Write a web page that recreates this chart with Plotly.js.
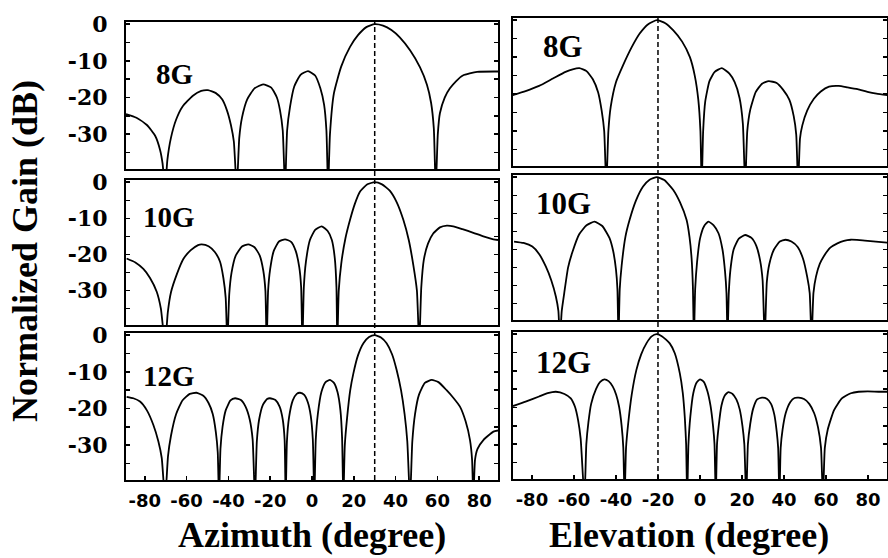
<!DOCTYPE html>
<html><head><meta charset="utf-8">
<script src="https://cdn.plot.ly/plotly-3.0.1.min.js"></script>
<style>html,body{margin:0;padding:0;background:#fff;} #chart{width:888px;height:558px;}</style>
</head><body><div id="chart"></div>
<script>
// ---- data (degrees, dB); -45 marks a null below the axis floor ----
const az8x = [-89,-84,-79,-75,-72.7,-71.5,-70.3,-69.2,-67.5,-65,-62,-57,-53,-49.8,-46,-43,-40.7,-38.8,-37.4,-36,-34.8,-33.5,-31,-27.5,-23.4,-19.5,-16.8,-15.3,-14,-12.9,-11.9,-10.5,-8.5,-5.5,-1.9,1.5,4,5.8,6.9,7.7,8.6,10.5,14,18.2,22,26,30,34,38,42,47,51.7,55,57,58.3,59.2,60.2,61.2,63.5,66,69,72.2,79,89];
const az8y = [-24.5,-25.5,-27.5,-30.5,-34.3,-38,-45,-37,-31,-26,-22.5,-19.5,-18.2,-18,-18.8,-20.5,-23.5,-27.5,-32,-45,-31,-25.5,-20.5,-17.5,-16.4,-17.3,-20,-23.5,-29,-45,-29,-22.5,-17,-13.8,-12.8,-14,-17.5,-22,-29,-45,-30,-18.8,-11.5,-6.2,-3,-0.8,0,-0.4,-1.6,-3.6,-7.2,-11.8,-16.5,-21.5,-28.5,-45,-30,-24.3,-20,-17.5,-15.5,-14,-13,-12.9];

const el8x = [-89.3,-83,-76.6,-70,-64,-60.6,-57.4,-54,-51,-48.5,-46.8,-45.6,-44.6,-43.6,-42.5,-40,-36.7,-32.5,-28.7,-24.5,-20.5,-16.5,-12.8,-8.5,-4.8,-2.5,-0.8,0.2,0.8,1.5,2.5,4.5,7,10.4,14,16.5,18.8,20.4,21.5,22.5,23.9,26.5,29.5,32.7,36.5,39.5,42.5,44.6,45.8,46.7,47.6,48.7,51,54.2,57.5,61.4,66,70.2,75,79.7,84,89.3];
const el8y = [-20.3,-19.2,-17.8,-15.8,-14,-13.3,-13,-13.8,-16,-19.5,-24.5,-30,-45,-30,-23.5,-16.8,-12.3,-7.3,-3.6,-1,0,-0.8,-2.7,-5.8,-10,-15,-21.6,-30,-45,-30,-22,-16.5,-14,-13,-14.5,-16.8,-21,-28,-45,-30,-24.3,-19.5,-17.2,-16.5,-17,-18.8,-21.5,-26,-31,-45,-32,-28.5,-24.5,-21.3,-19.3,-18,-17.8,-18.2,-18.7,-19.4,-19.9,-20.3];

const az10x = [-88.7,-84.5,-80.7,-77.5,-74.3,-72.3,-70.3,-69,-67.5,-64.7,-61.5,-58,-54.5,-52.8,-49.5,-46.5,-44,-42.4,-41.3,-40.5,-39.6,-38.5,-36.5,-33.5,-30.5,-27.5,-25,-23.3,-22.3,-21.7,-21,-20,-18.3,-15.8,-12.9,-10,-7.8,-6.1,-5.2,-4.6,-3.9,-2.9,-1,1.5,4.6,7.5,9.5,10.9,11.7,12.1,12.8,14,16,18.2,20.5,23,26.5,30,33.5,37.3,40.5,43.7,46.3,48.5,50.2,51.3,52.3,53.5,55.5,58,61.2,64.5,67.6,72,77.2,82,86.8,89];
const az10y = [-21.1,-22.2,-24,-26.5,-30.3,-35,-45,-36,-30.5,-25.5,-21.2,-18.8,-17.4,-17.2,-17.7,-19.3,-22,-26.5,-32,-45,-31,-25,-20.3,-17.8,-17.2,-18,-20.3,-24.5,-30,-45,-30,-24,-19,-16.4,-15.8,-16.5,-19,-23.5,-29,-45,-29,-22,-16,-13.2,-12.2,-13.5,-16,-21,-29,-45,-30,-22.5,-15.5,-10.4,-6,-2.6,-0.6,0,-0.6,-2.4,-5.5,-10.4,-16,-23,-30,-45,-29,-21.5,-17,-14.2,-12.5,-12,-12.2,-13,-14,-15,-15.8,-16];

const el10x = [-88.5,-84,-79.8,-76.5,-73.4,-70.8,-68.6,-67.4,-66.7,-65.8,-64.6,-62.8,-60.6,-57.5,-54,-50.2,-46.5,-43.1,-41.3,-40,-39.3,-38.8,-38.2,-37.3,-35.5,-33.5,-30.5,-27.1,-24,-20.5,-17,-12.8,-9.5,-6.4,-5,-4,-3.4,-2.9,-2.3,-1.4,0,2,4,6.5,8.8,10.7,11.9,12.6,13.1,13.7,14.5,16,18.5,21.5,24.5,26.8,28.6,29.8,30.8,31.8,33,35.2,38,40.7,43.5,46.5,49,51,52.2,53.1,54,55.2,57,59,62,65.4,68.5,71.8,76,79.8,85,89.3];
const el10y = [-17.8,-18.2,-19.2,-21.3,-24.7,-28.5,-33,-37,-45,-37,-32,-25,-20.5,-15.8,-13.3,-12.3,-13.5,-16.8,-20.5,-25.5,-31,-45,-31,-24.5,-16.5,-11.8,-6.5,-2.6,-0.7,0,-0.8,-3.5,-7,-11.8,-16.5,-22.5,-30,-45,-31,-23.5,-17,-13.5,-12.3,-13.3,-15.5,-20,-26,-32,-45,-32,-25.5,-20,-17,-16,-16.8,-19,-23,-28.5,-45,-29,-24,-20,-17.8,-17.3,-17.8,-19.3,-22.5,-27.5,-32,-45,-32,-27.5,-24,-21.8,-19.5,-18.3,-17.6,-17.3,-17.4,-17.6,-17.9,-18.1];

const az12x = [-88.7,-85.5,-82.3,-79,-75.9,-73.5,-71.9,-70.3,-68.9,-67.5,-65,-62,-58.5,-55.3,-52,-49.5,-47.5,-46,-45.1,-44.5,-43.8,-42.8,-41.3,-39,-36.8,-34,-31.8,-29.8,-28.4,-27.3,-26.4,-25.3,-23.5,-21.5,-20.1,-17.5,-15.5,-14,-13.1,-12.6,-12,-11,-9.2,-7.3,-5.7,-3.7,-2,-0.6,0.4,1.1,1.8,2.8,4.5,6.5,8.6,10.5,12.2,13.6,14.4,15,15.7,16.8,18.3,19.8,22,24.6,27.3,30,33,35.7,38.3,40.5,42.6,44.3,45.6,46.9,48,49.3,51.2,54,57.3,60.5,64.4,67.5,70.8,73.5,75.6,76.6,77.2,78,79.2,82,86.8,89];
const az12y = [-16.8,-17.2,-18.1,-20.5,-24.5,-29,-33.5,-45,-33,-27.5,-21.5,-17.8,-16,-15.7,-16.5,-18.5,-21.5,-26.5,-32,-45,-31,-25,-20.5,-17.8,-17.2,-17.7,-19.5,-23,-28.5,-45,-29,-23,-19,-17.4,-17.2,-17.7,-19.5,-23,-28.5,-45,-29,-22.5,-17.8,-16,-15.7,-16.3,-18.3,-22,-28.5,-45,-28.5,-21.5,-15.5,-12.8,-12.2,-13,-15.5,-20.5,-28,-45,-30,-22.5,-15,-10.4,-5.5,-2.2,-0.5,0,-0.6,-2.2,-5.2,-9.5,-15,-21.5,-29,-45,-29,-21.5,-16.2,-13,-12.2,-12.8,-15,-17,-19.5,-23.5,-28.6,-34,-45,-34,-31,-28.6,-26.3,-26];

const el12x = [-89,-83,-76.6,-72.5,-68.6,-64.5,-61.5,-59.5,-58,-56.8,-55,-54.1,-53.1,-51.8,-49.5,-47.5,-45.5,-43.5,-41.5,-39.9,-38.5,-37.3,-36.5,-35.9,-35.2,-34.2,-32.5,-30.3,-28,-25.5,-23,-20.7,-18,-14.4,-12,-9.6,-8.2,-7.2,-6.6,-6.1,-5.5,-4.6,-3.2,-1.6,0,1.8,3.5,5,6.2,6.9,7.5,8.1,8.9,10.2,11.8,13.5,15.5,17.3,18.9,20.2,21.1,22,22.8,23.9,25.3,27.2,29.5,31.8,33.8,35.4,36.5,37.2,37.8,38.4,39.3,40.8,43,45,47,49.5,52,54.3,56.2,57.6,58.5,59.4,60.8,63.8,67.5,71.8,75.5,79.8,85,89.3];
const el12y = [-19.6,-18.4,-17,-16.1,-15.7,-16.3,-17.5,-19.8,-23.5,-28.5,-45,-30,-24,-19,-15,-13,-12.3,-12.8,-14.3,-16.5,-19.8,-25,-31,-45,-31,-24.5,-16.5,-9.8,-5.5,-2.5,-0.6,0,-0.6,-2.5,-5.2,-10.7,-16,-23,-30,-45,-30,-22.5,-16.1,-13.2,-12.3,-13,-15.5,-19.5,-25,-30,-45,-30,-25,-19.5,-16.7,-15.8,-16.3,-17.8,-20.5,-25,-30,-45,-30,-24.5,-20.3,-17.8,-17.3,-17.6,-19,-22,-26.5,-31,-45,-31,-26,-21.5,-18.5,-17.4,-17.3,-17.7,-19,-21.5,-25.5,-31,-45,-31,-26,-20.7,-17.5,-16.1,-15.7,-15.6,-15.7,-15.7];

const beamAz = 30;    // dashed marker, azimuth column
const beamEl = -20;   // dashed marker, elevation column
const bandLabels = ['8G','10G','12G'];
const yTickVals = [0,-5,-10,-15,-20,-25,-30,-35];
const yTickText = ['0','','-10','','-20','','-30',''];
const xTickVals = [-80,-60,-40,-20,0,20,40,60,80];
const xTickText = ['-80','-60','-40','-20','0','20','40','60','80'];

// ---- figure ----
const lineStyle = {color:'#000', width:1.8, shape:'spline', smoothing:0.5};
const series = [
  [az8x, az8y, 'x', 'y'], [el8x, el8y, 'x2', 'y2'],
  [az10x, az10y, 'x3', 'y3'], [el10x, el10y, 'x4', 'y4'],
  [az12x, az12y, 'x5', 'y5'], [el12x, el12y, 'x6', 'y6']
];
const traces = series.map(s => ({x:s[0], y:s[1], xaxis:s[2], yaxis:s[3], type:'scatter', mode:'lines', line:lineStyle, hoverinfo:'skip', showlegend:false}));

// pixel geometry -> domains (plot area: x 126..887, y 18..480)
const L = 126, W = 761, T = 18, H = 462;
const fx = p => (p - L) / W;
const fy = p => (480 - p) / H;
const colX = [[fx(126), fx(498)], [fx(513), fx(887)]];
const rowY = [
  [[fy(169), fy(22)], [fy(166), fy(18)]],
  [[fy(325), fy(180)], [fy(320), fy(175)]],
  [[fy(480), fy(333)], [fy(479), fy(332)]]
];
const labelPos = [
  [[-66, -13.6], [-65, -7.2]],
  [[-68.5, -9.6], [-65, -7.2]],
  [[-68.5, -11], [-65, -7.6]]
];

const layout = {
  width:888, height:558,
  margin:{l:L, r:888-L-W, t:T, b:558-T-H, pad:0},
  paper_bgcolor:'#fff', plot_bgcolor:'#fff',
  showlegend:false,
  shapes:[], annotations:[]
};

for (let r = 0; r < 3; r++) {
  for (let c = 0; c < 2; c++) {
    const i = r*2 + c + 1;
    const xn = i === 1 ? 'xaxis' : 'xaxis' + i;
    const yn = i === 1 ? 'yaxis' : 'yaxis' + i;
    const xa = i === 1 ? 'x' : 'x' + i;
    const ya = i === 1 ? 'y' : 'y' + i;
    const bottom = r === 2;
    layout[xn] = {
      domain: colX[c], anchor: ya, range:[-89, 89],
      showline:true, mirror:true, linecolor:'#000', linewidth:2,
      showgrid:false, zeroline:false,
      ticks: bottom ? 'inside' : '', ticklen:4, tickwidth:1.5, tickcolor:'#000',
      tickmode:'array', tickvals:xTickVals, ticktext:xTickText,
      showticklabels: bottom, ticklabelstandoff: 3,
      tickfont:{family:'DejaVu Sans', size:18, color:'#000', weight:'bold'}
    };
    layout[yn] = {
      domain: rowY[r][c], anchor: xa, range:[-39.5, 0.6],
      showline:true, mirror:'allticks', linecolor:'#000', linewidth:2,
      showgrid:false, zeroline:false,
      ticks:'inside', ticklen:4, tickwidth:1.5, tickcolor:'#000',
      tickmode:'array', tickvals:yTickVals, ticktext:yTickText,
      showticklabels: c === 0, ticklabelstandoff: 12,
      tickfont:{family:'DejaVu Serif', size:22, color:'#000', weight:'bold'}
    };
    layout.annotations.push({
      xref:xa, yref:ya, x: labelPos[r][c][0], y: labelPos[r][c][1],
      text: bandLabels[r], showarrow:false, xanchor:'center', yanchor:'middle',
      font:{family:'Liberation Serif', size: c === 0 ? 29 : 31, color:'#000', weight:'bold'}
    });
  }
}

layout.shapes.push({type:'line', xref:'x', yref:'paper', x0:beamAz, x1:beamAz, y0:fy(480), y1:fy(22),
  line:{color:'#000', width:1.5, dash:'5px,3px'}});
layout.shapes.push({type:'line', xref:'x2', yref:'paper', x0:beamEl, x1:beamEl, y0:fy(479), y1:fy(18),
  line:{color:'#000', width:1.5, dash:'5px,3px'}});

const titleFont = {family:'Liberation Serif', size:36, color:'#000', weight:'bold'};
layout.annotations.push({xref:'paper', yref:'paper', x:fx(312), y:fy(535), text:'Azimuth (degree)',
  showarrow:false, xanchor:'center', yanchor:'middle', font:titleFont});
layout.annotations.push({xref:'paper', yref:'paper', x:fx(689), y:fy(535), text:'Elevation (degree)',
  showarrow:false, xanchor:'center', yanchor:'middle', font:titleFont});
layout.annotations.push({xref:'paper', yref:'paper', x:fx(25), y:fy(251), text:'Normalized Gain (dB)',
  textangle:-90, showarrow:false, xanchor:'center', yanchor:'middle', font:titleFont});

Plotly.newPlot('chart', traces, layout, {displayModeBar:false, staticPlot:true});
</script>
</body></html>
